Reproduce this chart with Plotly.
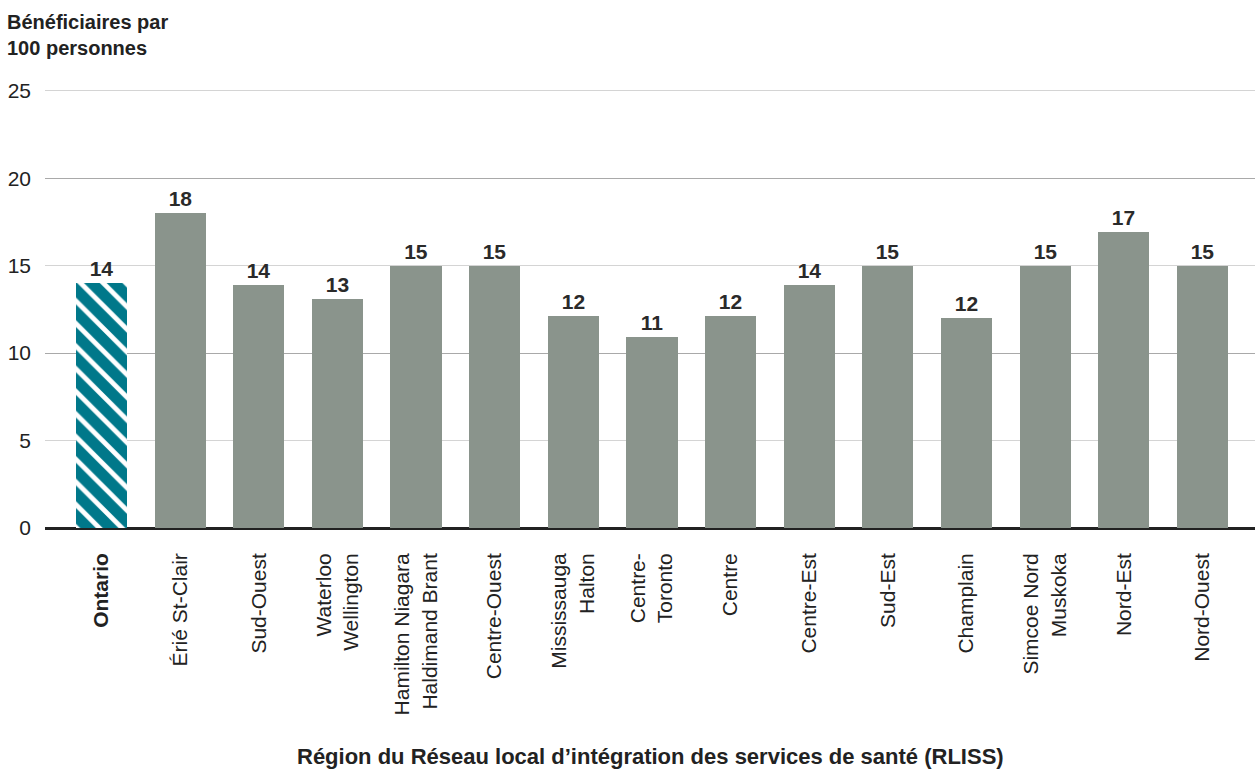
import plotly.graph_objects as go

categories = ["<b>Ontario</b>", "Érié St-Clair", "Sud-Ouest", "Waterloo<br>Wellington",
              "Hamilton Niagara<br>Haldimand Brant", "Centre-Ouest", "Mississauga<br>Halton",
              "Centre-<br>Toronto", "Centre", "Centre-Est", "Sud-Est", "Champlain",
              "Simcoe Nord<br>Muskoka", "Nord-Est", "Nord-Ouest"]
values = [14.0, 18.0, 13.9, 13.1, 15.0, 15.0, 12.1, 10.9, 12.1, 13.9, 15.0, 12.0, 15.0, 16.9, 15.0]
labels = ["14", "18", "14", "13", "15", "15", "12", "11", "12", "14", "15", "12", "15", "17", "15"]
ytick_vals = [0, 5, 10, 15, 20, 25]
ytick_dark = [10, 20]

TEAL = "#00788a"
GRAY = "#8a948c"
FONT = "Liberation Sans, Arial, sans-serif"
YR = [0, 25.1]

x_idx = list(range(len(categories)))
label_font = dict(size=21, color="#2a2a2a", family=FONT, weight="bold")

fig = go.Figure()
# Ontario (hatched)
fig.add_trace(go.Bar(
    x=x_idx[:1], y=values[:1], text=labels[:1], width=0.65,
    marker=dict(color=TEAL, line=dict(width=0),
                pattern=dict(shape="\\", bgcolor=TEAL, fgcolor="white",
                             size=16, solidity=0.3, fillmode="replace")),
    textposition="outside", cliponaxis=False,
    textfont=label_font,
))
# Regions
fig.add_trace(go.Bar(
    x=x_idx[1:], y=values[1:], text=labels[1:], width=0.65, yaxis="y2",
    marker=dict(color=GRAY, line=dict(width=0)),
    textposition="outside", cliponaxis=False,
    textfont=label_font,
))

fig.update_layout(
    width=1255, height=770,
    margin=dict(l=45, r=0, t=89, b=242),
    plot_bgcolor="white", paper_bgcolor="white",
    showlegend=False, bargap=0,
    font=dict(family=FONT, size=21, color="#222222"),
    xaxis=dict(
        tickmode="array", tickvals=x_idx, ticktext=categories,
        tickangle=-90, range=[-0.718, 14.668],
        showgrid=False, showline=False, zeroline=False,
        ticks="", ticklabelstandoff=20,
        tickfont=dict(size=21, color="#222222", family=FONT),
    ),
    yaxis=dict(
        range=YR, tickmode="array", tickvals=ytick_vals,
        showgrid=True, gridcolor="#d4d4d4", gridwidth=1,
        zeroline=True, zerolinecolor="#222222", zerolinewidth=3,
        showline=False, ticks="", ticklabelstandoff=13,
        tickfont=dict(size=21, color="#222222", family=FONT),
    ),
    yaxis2=dict(
        range=YR, overlaying="y", side="left", tickmode="array",
        tickvals=ytick_dark, showticklabels=False, showgrid=True,
        gridcolor="#a9a9a9", gridwidth=1, zeroline=False, showline=False,
    ),
    annotations=[
        dict(text="<b>Bénéficiaires par<br>100 personnes</b>", xref="paper", yref="paper",
             x=-40/1210, y=1 + 80/439, xanchor="left", yanchor="top", align="left",
             showarrow=False, font=dict(size=20, color="#222222", family=FONT)),
        dict(text="<b>Région du Réseau local d’intégration des services de santé (RLISS)</b>",
             xref="paper", yref="paper", x=0.5, y=-(756 - 528) / 439,
             xanchor="center", yanchor="middle", showarrow=False,
             font=dict(size=22, color="#222222", family=FONT)),
    ],
)

fig.write_html("out.html")
